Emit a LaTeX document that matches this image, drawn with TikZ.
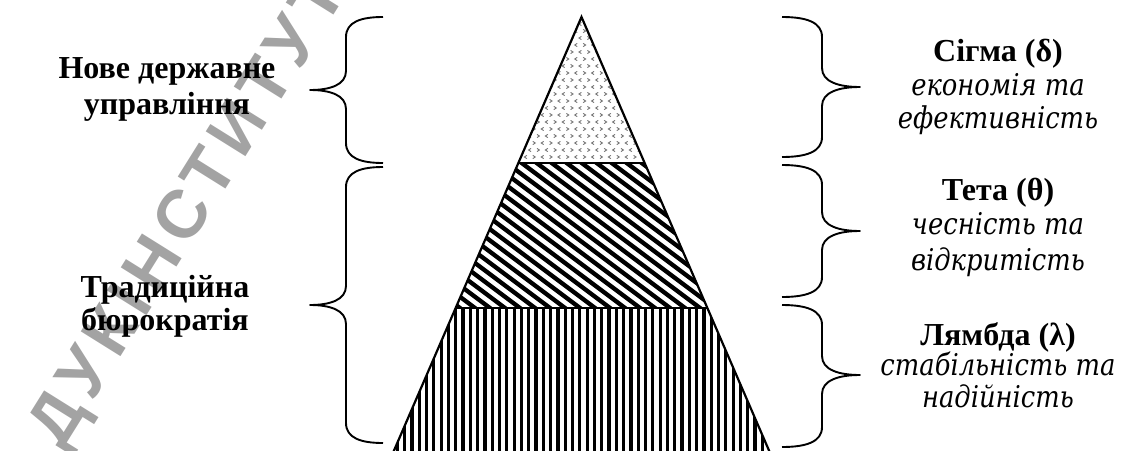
\documentclass[tikz,border=0pt]{standalone}
\usepackage{fontspec}
\setmainfont{Liberation Serif}
\newfontfamily\itfont[FakeStretch=0.86]{DejaVu Serif Italic}
\newfontfamily\wmfont[LetterSpace=11]{Liberation Sans Bold}
\definecolor{wmgray}{gray}{0.64}
\definecolor{dotgray}{gray}{0.45}
\tikzset{
  lblb/.style={font=\fontsize{32}{34}\selectfont\bfseries, anchor=base, inner sep=0pt},
  lbli/.style={font=\itfont\fontsize{30}{34}\selectfont, anchor=base, inner sep=0pt},
  bracestyle/.style={line width=1.9pt, line join=round},
  outline/.style={line width=2.2pt, line join=miter},
  wm/.style={font=\wmfont\fontsize{68}{70}\selectfont, text=wmgray, inner sep=0pt}
}
\newcommand{\mybrace}[6]{%
  \draw[bracestyle] (#1,#4) .. controls ({#1+0.6*(#2-#1)},#4) and (#2,{#4+5}) .. (#2,{#4+20})
   -- (#2,{#5-19}) .. controls (#2,{#5-5}) and ({#2+0.45*(#3-#2)},#5) .. (#3,#5)
   .. controls ({#2+0.45*(#3-#2)},#5) and (#2,{#5+5}) .. (#2,{#5+19})
   -- (#2,{#6-20}) .. controls (#2,{#6-5}) and ({#1+0.6*(#2-#1)},#6) .. (#1,#6);}
\begin{document}
\begin{tikzpicture}[x=1pt,y=-1pt]
\useasboundingbox (0,0) rectangle (1122,450);
\clip (0,0) rectangle (1122,450);
% watermark (behind everything)
\node[wm, rotate=58, anchor=base west] (wm) at (62,451) {ДУКІНСТИТУТ};
% pyramid corner points
\coordinate (apex) at (581.5,17);
\coordinate (l1) at (518.3,163);
\coordinate (r1) at (644.7,163);
\coordinate (l2) at (455.5,308);
\coordinate (r2) at (707.5,308);
\coordinate (l3) at (388.6,463);
\coordinate (r3) at (774.4,463);
% top layer: chevron pattern
\begin{scope}
  \clip (apex) -- (r1) -- (l1) -- cycle;
  \foreach \j in {0,...,20} {
    \foreach \i in {0,...,16} {
      \pgfmathsetmacro\xx{513 + \i*8.4 + mod(\j,2)*4.2}
      \pgfmathsetmacro\yy{24 + \j*7.0}
      \pgfmathtruncatemacro\dir{mod(\i+\j,2)}
      \ifnum\dir=0
        \draw[dotgray, line width=0.9pt] (\xx+1.2,\yy-1.6) -- (\xx-1.2,\yy) -- (\xx+1.2,\yy+1.6);
      \else
        \draw[dotgray, line width=0.9pt] (\xx-1.2,\yy-1.6) -- (\xx+1.2,\yy) -- (\xx-1.2,\yy+1.6);
      \fi
    }
  }
\end{scope}
% middle layer: diagonal stripes
\begin{scope}
  \clip (l1) -- (r1) -- (r2) -- (l2) -- cycle;
  \foreach \c in {200,215,...,665} {
    \draw[line width=4.3pt] (\c,158) -- ++(230,172.5);
  }
\end{scope}
% bottom layer: vertical stripes
\begin{scope}
  \clip (l2) -- (r2) -- (r3) -- (l3) -- cycle;
  \foreach \k in {0,...,53} {
    \draw[line width=3.2pt] ({390+\k*7.3},306) -- ({390+\k*7.3},455);
  }
\end{scope}
% outline
\draw[outline] (l3) -- (apex) -- (r3);
\draw[outline] (l1) -- (r1);
\draw[outline] (l2) -- (r2);
% braces left
\mybrace{383}{346}{310}{17}{90}{163}
\mybrace{383}{346}{310}{167}{305}{443}
% braces right
\mybrace{782}{822}{860}{17}{87}{157}
\mybrace{782}{822}{860}{165}{231}{297}
\mybrace{782}{822}{860}{305}{375}{447}
% left labels
\node[lblb] (nps1) at (167,78) {Нове державне};
\node[lblb] (nps2) at (167,114) {управління};
\node[lblb] (tb1) at (165,297) {Традиційна};
\node[lblb] (tb2) at (165,330) {бюрократія};
% right labels
\node[lblb] (s1) at (998,61) {Сігма (δ)};
\node[lbli] (s2) at (998,95) {економія та};
\node[lbli] (s3) at (998,128) {ефективність};
\node[lblb] (t1) at (998,200) {Тета (θ)};
\node[lbli] (t2) at (998,234) {чесність та};
\node[lbli] (t3) at (998,270) {відкритість};
\node[lblb] (l1t) at (998,345) {Лямбда (λ)};
\node[lbli] (l2t) at (998,375) {стабільність та};
\node[lbli] (l3t) at (998,407) {надійність};
\end{tikzpicture}
\end{document}
